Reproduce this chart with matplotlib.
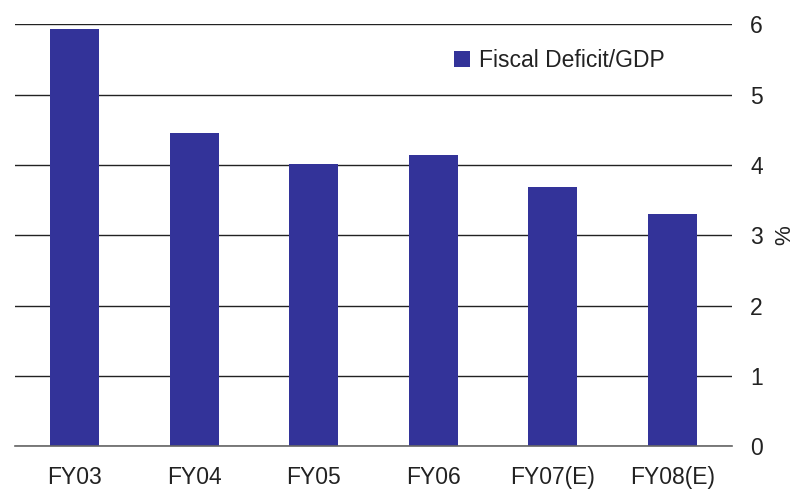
import matplotlib.pyplot as plt
import numpy as np

years = ['FY03', 'FY04', 'FY05', 'FY06', 'FY07(E)', 'FY08(E)']
deficit = [5.93, 4.45, 4.01, 4.14, 3.69, 3.30]

plt.rcParams['font.family'] = ['Liberation Sans', 'DejaVu Sans']

fig = plt.figure(figsize=(7.97, 4.92), dpi=100)
ax = fig.add_axes([0.0188, 0.0929, 0.8996, 0.8577])

x = np.arange(len(years))
ax.bar(x, deficit, width=0.41, color='#333399', label='Fiscal Deficit/GDP', zorder=3)

ax.set_xlim(-0.5, len(years) - 0.5)
ax.set_ylim(0, 6)
ax.set_yticks(range(7))
ax.yaxis.tick_right()
ax.yaxis.set_label_position('right')
ax.set_ylabel('%', fontsize=16, color='#222222', rotation=90, labelpad=8)

ax.set_xticks(x)
ax.set_xticklabels(years)
ax.tick_params(axis='both', length=0, labelsize=16.5, colors='#222222')
ax.tick_params(axis='y', pad=13)
ax.tick_params(axis='x', pad=14)

for s in ['top', 'right', 'left']:
    ax.spines[s].set_visible(False)
ax.spines['bottom'].set_color('#666666')
ax.spines['bottom'].set_linewidth(1.2)
ax.spines['bottom'].set_zorder(4)

ax.yaxis.grid(True, color='#222222', linewidth=1.0, zorder=1)
ax.set_axisbelow(True)

# 범례 (Fiscal Deficit/GDP)
leg = ax.legend(loc='upper right', bbox_to_anchor=(0.935, 0.99), frameon=False,
                fontsize=16.5, handlelength=0.7, handleheight=0.7, handletextpad=0.4)
for t in leg.get_texts():
    t.set_color('#222222')

fig.savefig('out.png', dpi=100)
